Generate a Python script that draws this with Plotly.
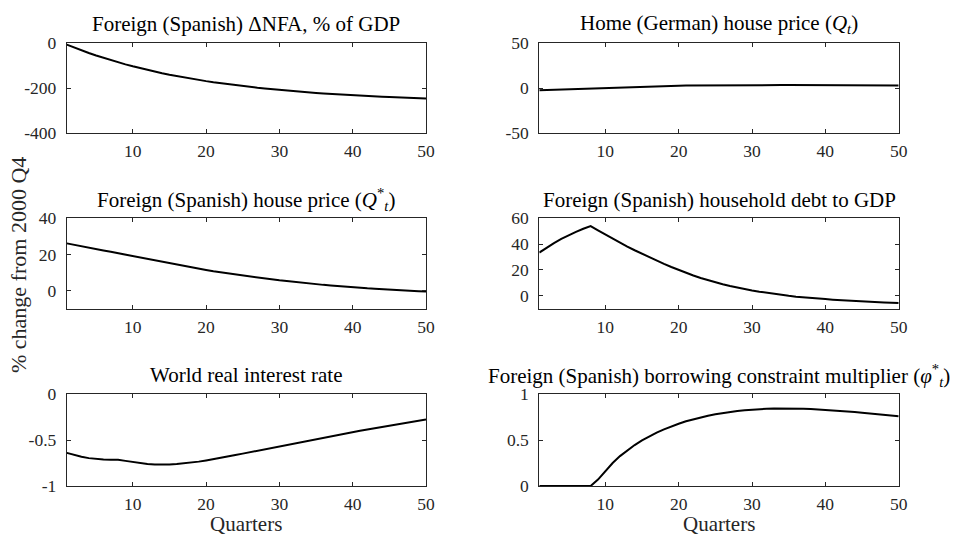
import plotly.graph_objects as go

# ---- data -------------------------------------------------------------
quarters = list(range(1, 51))

nfa_spain = [
    -7.5, -20.5, -32.9, -44.6, -55.7, -66.3, -76.4, -85.9, -95.0, -103.6,
    -111.8, -119.6, -127.0, -134.0, -140.7, -147.0, -153.1, -158.8, -164.2, -169.4,
    -174.3, -178.9, -183.4, -187.6, -191.6, -195.4, -199.0, -202.4, -205.7, -208.8,
    -211.7, -214.5, -217.1, -219.7, -222.1, -224.3, -226.5, -228.5, -230.5, -232.3,
    -234.1, -235.8, -237.3, -238.8, -240.3, -241.7, -242.9, -244.2, -245.3, -246.4,
]

house_price_germany = [
    -2.5, -2.2, -1.9, -1.6, -1.3, -1.0, -0.7, -0.4, -0.1, 0.3,
    0.6, 0.9, 1.2, 1.5, 1.7, 1.9, 2.1, 2.3, 2.5, 2.6,
    2.7, 2.8, 2.9, 3.0, 3.05, 3.1, 3.15, 3.2, 3.2, 3.2,
    3.2, 3.2, 3.2, 3.2, 3.2, 3.15, 3.1, 3.1, 3.05, 3.0,
    3.0, 2.95, 2.9, 2.9, 2.85, 2.8, 2.8, 2.75, 2.7, 2.7,
]

house_price_spain = [
    26.1, 25.4, 24.6, 23.8, 23.0, 22.2, 21.4, 20.6, 19.8, 19.0,
    18.2, 17.4, 16.6, 15.8, 15.0, 14.2, 13.5, 12.7, 12.0, 11.3,
    10.6, 10.0, 9.4, 8.8, 8.2, 7.6, 7.1, 6.6, 6.1, 5.6,
    5.2, 4.7, 4.3, 3.9, 3.5, 3.1, 2.8, 2.4, 2.1, 1.8,
    1.5, 1.2, 1.0, 0.7, 0.5, 0.3, 0.1, -0.2, -0.4, -0.6,
]

household_debt_spain = [
    33.4, 37.3, 40.8, 44.0, 46.9, 49.5, 51.9, 54.0, 50.7, 47.4,
    44.2, 41.1, 38.1, 35.2, 32.4, 29.7, 27.1, 24.6, 22.2, 19.9,
    17.7, 15.6, 13.7, 11.9, 10.3, 8.8, 7.4, 6.1, 5.0, 4.0,
    3.05, 2.15, 1.3, 0.55, -0.15, -0.8, -1.4, -1.9, -2.35, -2.7,
    -3.15, -3.55, -3.93, -4.28, -4.6, -4.9, -5.17, -5.41, -5.62, -5.8,
]

world_real_rate = [
    -0.640, -0.663, -0.682, -0.697, -0.707, -0.713, -0.716, -0.716, -0.727, -0.740,
    -0.752, -0.760, -0.765, -0.767, -0.766, -0.762, -0.755, -0.746, -0.735, -0.722,
    -0.709, -0.695, -0.680, -0.664, -0.648, -0.632, -0.616, -0.600, -0.584, -0.568,
    -0.552, -0.536, -0.520, -0.504, -0.488, -0.473, -0.458, -0.443, -0.428, -0.413,
    -0.399, -0.385, -0.371, -0.357, -0.343, -0.330, -0.317, -0.304, -0.291, -0.278,
]

borrowing_multiplier_spain = [
    0.0, 0.0, 0.0, 0.0, 0.0, 0.0, 0.0, 0.0, 0.07, 0.165,
    0.25, 0.325, 0.39, 0.445, 0.495, 0.54, 0.58, 0.615, 0.648, 0.677,
    0.703, 0.726, 0.746, 0.764, 0.779, 0.793, 0.805, 0.815, 0.823, 0.830,
    0.835, 0.839, 0.842, 0.843, 0.843, 0.842, 0.840, 0.836, 0.832, 0.827,
    0.822, 0.816, 0.810, 0.804, 0.797, 0.790, 0.782, 0.775, 0.767, 0.759,
]

panel_titles = [
    "Foreign (Spanish) ΔNFA, % of GDP",
    "Home (German) house price (<i>Q</i><sub><i>t</i></sub>)",
    "Foreign (Spanish) house price (<i>Q</i><sup>*</sup><sub><i>t</i></sub>)",
    "Foreign (Spanish) household debt to GDP",
    "World real interest rate",
    "Foreign (Spanish) borrowing constraint multiplier (<i>φ</i><sup>*</sup><sub><i>t</i></sub>)",
]

x_tick_vals = [10, 20, 30, 40, 50]
x_tick_text = ["10", "20", "30", "40", "50"]

y_limits = [[-400, 0], [-50, 50], [-10, 40], [-10, 60], [-1, 0], [0, 1]]
y_tick_vals = [
    [-400, -200, 0],
    [-50, 0, 50],
    [0, 20, 40],
    [0, 20, 40, 60],
    [-1, -0.5, 0],
    [0, 0.5, 1],
]
y_tick_text = [
    ["-400", "-200", "0"],
    ["-50", "0", "50"],
    ["0", "20", "40"],
    ["0", "20", "40", "60"],
    ["-1", "-0.5", "0"],
    ["0", "0.5", "1"],
]

series = [
    nfa_spain,
    house_price_germany,
    house_price_spain,
    household_debt_spain,
    world_real_rate,
    borrowing_multiplier_spain,
]

y_axis_label = "% change from 2000 Q4"
x_axis_label = "Quarters"

# ---- layout geometry (pixels) -----------------------------------------
W, H = 963, 537
COLS = [(66.8, 426.0), (539.3, 898.7)]
ROWS = [(43.0, 133.0), (218.3, 308.5), (394.0, 486.0)]

FONT = "Liberation Serif"
AXIS_GREY = "#262626"


def px_x(v):
    return v / W


def px_y(v):
    return 1 - v / H


fig = go.Figure()
annotations = []

for i, values in enumerate(series):
    r, c = divmod(i, 2)
    n = i + 1
    xa = "x" if n == 1 else f"x{n}"
    ya = "y" if n == 1 else f"y{n}"
    fig.add_trace(
        go.Scatter(
            x=quarters,
            y=values,
            mode="lines",
            line=dict(color="black", width=2),
            xaxis=xa,
            yaxis=ya,
            showlegend=False,
            hoverinfo="skip",
        )
    )
    x0, x1 = COLS[c]
    y0, y1 = ROWS[r]
    axis_common = dict(
        showline=True,
        linecolor=AXIS_GREY,
        linewidth=1,
        mirror="ticks",
        ticks="inside",
        ticklen=4,
        tickwidth=1,
        tickcolor=AXIS_GREY,
        showgrid=False,
        zeroline=False,
        automargin=False,
        tickfont=dict(family=FONT, size=17.5, color=AXIS_GREY),
        fixedrange=True,
    )
    fig.update_layout(
        {
            ("xaxis" if n == 1 else f"xaxis{n}"): dict(
                domain=[px_x(x0), px_x(x1)],
                anchor=ya,
                range=[1, 50],
                tickmode="array",
                tickvals=x_tick_vals,
                ticktext=x_tick_text,
                ticklabelstandoff=2,
                **axis_common,
            ),
            ("yaxis" if n == 1 else f"yaxis{n}"): dict(
                domain=[px_y(y1), px_y(y0)],
                anchor=xa,
                range=y_limits[i],
                tickmode="array",
                tickvals=y_tick_vals[i],
                ticktext=y_tick_text[i],
                ticklabelstandoff=6,
                **axis_common,
            ),
        }
    )
    annotations.append(
        dict(
            text=panel_titles[i],
            x=px_x((x0 + x1) / 2),
            y=px_y(y0 - 18.6),
            xref="paper",
            yref="paper",
            xanchor="center",
            yanchor="middle",
            showarrow=False,
            font=dict(family=FONT, size=21, color="black"),
        )
    )

# x-axis labels under the bottom row
for c in range(2):
    x0, x1 = COLS[c]
    annotations.append(
        dict(
            text=x_axis_label,
            x=px_x((x0 + x1) / 2),
            y=px_y(523.5),
            xref="paper",
            yref="paper",
            xanchor="center",
            yanchor="middle",
            showarrow=False,
            font=dict(family=FONT, size=21, color=AXIS_GREY),
        )
    )

# shared y-axis label
annotations.append(
    dict(
        text=y_axis_label,
        x=px_x(18),
        y=px_y(265),
        xref="paper",
        yref="paper",
        xanchor="center",
        yanchor="middle",
        textangle=-90,
        showarrow=False,
        font=dict(family=FONT, size=22, color=AXIS_GREY),
    )
)

fig.update_layout(
    template="none",
    width=W,
    height=H,
    margin=dict(l=0, r=0, t=0, b=0),
    paper_bgcolor="white",
    plot_bgcolor="white",
    annotations=annotations,
)

fig.write_html("out.html")
